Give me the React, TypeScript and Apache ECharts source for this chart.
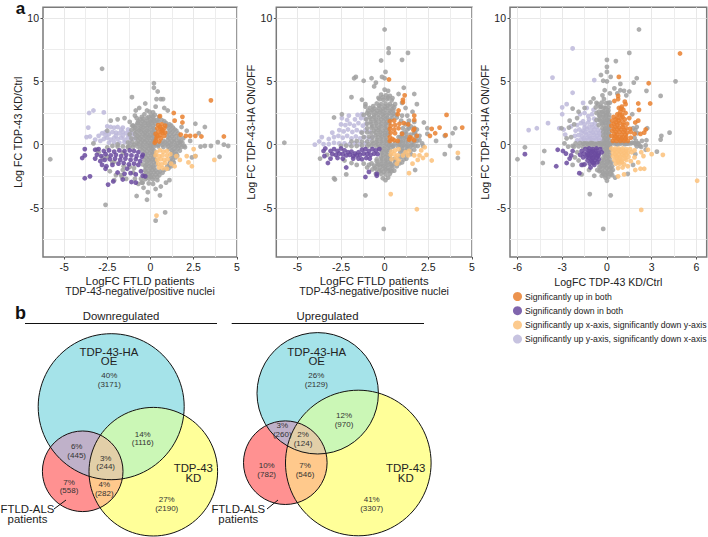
import React, { useEffect, useRef } from "react";
import * as echarts from "echarts";

type P = [number, number];

const seriesNames = [
  "Significantly up in both",
  "Significantly down in both",
  "Significantly up x-axis, significantly down y-axis",
  "Significantly up y-axis, significantly down x-axis",
];
const seriesColors = ["#E9802F", "#6A4A9F", "#FBC17A", "#BDB8DA"];
const notSigColor = "#A0A0A0";

// Panel 1: FTLD vs KD
const p1Gray: P[] = [
  [-2.8,6],[.2,4.85],[.2,4.5],[.42,4.2],[-1.07,3.75],[.35,3.6],[.6,3.6],[.73,3.6],[-.3,3.25],[.8,2.9],[-.65,2.9],[-.85,2.7],[1,2.7],[.3,3],
  [-5.8,-1.15],[-2.6,-4.75],[-.8,-4.05],[-.2,-4.35],[.85,-5.35],[.3,-6],[.55,-4],[-.15,-3.75],[-.4,-3.4],[.3,-3.5],[.6,-3.3],[1.1,-2.8],[.9,-3],[-.7,-3.1],[-.5,-3],
  [2.6,1.65],[3.15,1.4],[2.8,.9],[3.9,.2],[3.5,-.1],[3.15,-.1],[2.9,-.15],[4.25,0],[4.5,-.1],[4,-.95],[2.4,-1],[2.3,.3],[2.1,1.1],[1.8,1.4],[1.7,.2],[2,-.2],[1.9,.5],[2.6,-.9],
  [-1.9,2],[-1.5,2.1],[-1.2,1.8],[-2.3,1.9],[-.9,2.3],[-.8,2.1],[-1,1.5],[-2.5,1.1],
  [-.2,2.7],[-.05,2.6],[.15,2.55],[-.35,2.4],[.05,2.3],[.25,2.35],[.5,2.2],
  [-.6,2],[-.42,2.05],[-.2,2.1],[0,2],[.2,2],[.4,1.95],[.65,1.95],
  [-.75,1.7],[-.55,1.65],[-.33,1.72],[-.12,1.68],[.08,1.7],[.28,1.66],[.9,1.7],[1.1,1.6],
  [-.9,1.35],[-.65,1.3],[-.42,1.36],[-.2,1.33],[0,1.38],[.2,1.3],[1.05,1.3],[1.3,1.35],
  [-.8,1],[-.55,1.03],[-.32,.97],[-.1,1.02],[.12,.98],[1,.95],[1.25,1],[1.5,1.1],
  [-.75,.68],[-.52,.64],[-.3,.7],[-.08,.66],[.15,.68],[1,.62],[1.25,.65],[1.5,.7],
  [-.7,.35],[-.45,.32],[-.22,.36],[0,.3],[.2,.34],[.75,.3],[1,.35],[1.25,.28],[1.5,.34],[1.75,.25],
  [-.95,0],[-.7,.04],[-.45,-.02],[-.22,.03],[0,-.03],[.22,.02],[.45,0],[.7,-.02],[.95,.03],[1.2,0],[1.45,-.03],[1.7,-.05],[1.95,-.1],
  [-.6,-.32],[-.35,-.35],[-.12,-.3],[.1,-.34],[1.1,-.32],[1.35,-.36],[1.6,-.3],
  [-.3,-.7],[-.05,-.66],[.15,-.7],[1.25,-.68],[1.5,-.72],
  [-.25,-1.02],[-.02,-1.05],[.18,-1],[1.2,-1.05],[1.45,-1],
  [-.22,-1.36],[0,-1.33],[.2,-1.38],[1.15,-1.35],[1.35,-1.42],
  [-.3,-1.7],[-.08,-1.68],[.14,-1.72],[.98,-1.7],[1.2,-1.7],
  [-.32,-2.02],[-.1,-2.05],[.1,-2],[.3,-2.04],[.55,-2.1],[.8,-2],
  [-.35,-2.38],[-.12,-2.35],[.08,-2.4],[.3,-2.36],[.52,-2.4],
  [-.55,-2.7],[-.3,-2.72],[-.08,-2.68],[.15,-2.75],[.4,-2.8],
  [-.45,-3],[-.1,-3.05],[.15,-3.1],
  [-3.1,-.4],[-2.5,-.2],[-1.9,-.15],[-1.3,-.2],[-2.2,-1.4],[-1.6,-2],[-1,-2.2],[-2,-2.4],[-2.1,-2.8],[-1.4,-2.7],[-.9,-2.7],[-1.7,-2.4],[-3.3,.1],[-1.2,-.1],
  [-2.75,-1.05],[-2.1,-1.35],[-1.55,-1.7],[-2.35,-2.1],[-1.2,-1.75],[-3,-.6],[-2.5,-.95],[-1.6,-.65],[-.95,-1.85],[-1.65,-2.55],
  [-.5,2.2],[-.1,2.2],[.15,2.2],
  [-.7,1.85],[-.45,1.85],[-.22,1.87],[0,1.83],[.2,1.85],[.45,1.82],[.8,1.85],
  [-1.05,1.5],[-.8,1.52],[-.55,1.48],[-.3,1.5],[-.1,1.53],[.15,1.5],[.95,1.48],[1.2,1.5],
  [-1.1,1.15],[-.9,1.18],[-.65,1.14],[-.42,1.16],[-.2,1.12],[.05,1.17],[.25,1.15],[1.15,1.14],[1.4,1.2],
  [-1.2,.82],[-.9,.85],[-.65,.8],[-.42,.84],[-.2,.82],[.03,.8],[.22,.85],[1.1,.8],[1.35,.84],[1.6,.88],
  [-1.1,.5],[-.85,.52],[-.6,.48],[-.35,.5],[-.12,.53],[.1,.5],[.28,.48],[1.1,.5],[1.35,.47],[1.65,.52],
  [-1.3,.18],[-1.05,.2],[-.8,.15],[-.55,.18],[-.32,.2],[-.1,.15],[.12,.18],[.6,.13],[.85,.18],[1.1,.15],[1.35,.2],[1.6,.12],[1.85,.15],
  [-2.2,-.1],[-1.9,.02],[-1.6,-.13],[-1.3,-.15],[-1,-.17],[-.75,-.14],[-.5,-.15],[-.25,-.18],[0,-.14],[.2,-.16],[.45,-.13],[.75,-.18],[1,-.15],[1.25,-.16],[1.5,-.14],[1.8,-.18],
  [-.45,-.5],[-.2,-.52],[.05,-.47],[.22,-.5],[1.25,-.5],[1.45,-.53],[1.7,-.48],
  [-.4,-.85],[-.15,-.87],[.08,-.83],[.25,-.85],[1.3,-.85],[1.55,-.87],
  [-.35,-1.2],[-.1,-1.22],[.12,-1.17],[.28,-1.2],[1.3,-1.22],
  [-.45,-1.55],[-.2,-1.53],[.05,-1.57],[.3,-1.55],[1.1,-1.53],
  [-.25,-1.85],[0,-1.87],[.22,-1.83],[1.05,-1.87],
  [-.25,-2.2],[0,-2.22],[.2,-2.18],[.42,-2.2],[.7,-2.22],
  [-.25,-2.55],[0,-2.52],[.2,-2.57],[.4,-2.55],
];
const p1Up: P[] = [
  [3.5,3.5],[1.35,2.5],[1.85,2.2],[1.4,1.9],[1.85,1.75],[4.25,.65],[2.95,.65],[2.6,.7],[2.3,.7],[2.05,.7],[1.75,.8],[.55,2.25],
  [.45,1.55],[.65,1.6],[.85,1.5],[.4,1.3],[.6,1.25],[.8,1.3],[.45,1],[.65,1.05],[.85,.95],[.3,.85],[.55,.75],[.8,.7],[.35,.55],[.6,.5],[.3,.3],[.5,.25],[.25,.15],[.7,.95],[.55,1.42],[.7,1.15],[.4,.68],
];
const p1Down: P[] = [
  [-3.8,-.35],[-3.95,-1.05],[-3.8,-.85],[-3.8,-2.65],[-3.5,-2.5],[-2.45,-3.15],[-2.15,-2.9],[-1.6,-2.75],[-1.1,-2.95],[-.85,-3],[-.3,-2.5],
  [-3.2,-.4],[-3,-.35],[-2.7,-.5],[-2.4,-.45],[-2.1,-.55],[-1.8,-.45],[-1.5,-.5],[-1.2,-.45],[-.95,-.5],[-.7,-.6],[-.45,-.8],
  [-3.1,-.8],[-2.85,-.9],[-2.6,-.75],[-2.3,-.85],[-2,-.8],[-1.7,-.9],[-1.4,-.8],[-1.1,-.85],[-.8,-.9],[-.5,-.95],
  [-3.2,-1.1],[-2.9,-1.3],[-2.65,-1.2],[-2.35,-1.15],[-2.05,-1.1],[-1.75,-1.2],[-1.45,-1.1],[-1.15,-1.2],[-.85,-1.15],[-.6,-1.3],
  [-2.8,-1.6],[-2.55,-1.7],[-2.2,-1.6],[-1.85,-1.5],[-1.55,-1.45],[-1.25,-1.55],[-.95,-1.5],[-.7,-1.6],
  [-2.6,-1.9],[-1.9,-2.2],[-1.5,-2.3],[-1.15,-2.25],[-.85,-2.35],[-.55,-2.1],[-.45,-2.45],[-1.35,-1.9],
];
const p1UpX: P[] = [
  [3.7,-1.2],[2.6,-.9],[2.1,-.9],[2.4,-1.7],[2.2,-1.4],[2.5,-.35],[.35,-5.6],[1.7,-1.2],[1.4,-1.7],[1.5,-.9],
  [.35,-.6],[.55,-.45],[.75,-.55],[.95,-.5],[.3,-.85],[.5,-.9],[.7,-.85],[.95,-.85],[1.15,-.75],[.4,-1.2],[.6,-1.15],[.8,-1.2],[1,-1.15],[.45,-1.5],[.65,-1.55],[.85,-1.45],[.5,-1.8],[.72,-1.85],[.95,-1.9],[1.2,-1.5],
];
const p1UpY: P[] = [
  [-3.55,2.5],[-3.3,2.7],[-2.7,2.55],[-3.6,1.35],[-3.7,.6],[-3.5,.65],[-3.2,.4],[-3,.7],[-2.9,.3],
  [-2.5,1.45],[-2.3,1.4],[-2.1,1.35],[-1.9,1.4],[-1.6,1.35],[-1.3,1.2],
  [-2.8,.9],[-2.6,1],[-2.4,.85],[-2.2,1],[-2,.95],[-1.8,.9],[-1.6,1],[-1.4,.9],[-1.2,1],[-1,.85],
  [-2.7,.45],[-2.5,.55],[-2.3,.4],[-2.1,.55],[-1.9,.45],[-1.7,.55],[-1.5,.4],[-1.3,.55],[-1.1,.45],[-.9,.5],
  [-2.4,.15],[-2.1,.2],[-1.8,.15],[-1.5,.2],[-1.2,.15],[-2.6,.75],[-1.7,1.2],[-2,.72],[-1.6,.72],[-1.25,.75],
];

// Panel 2: FTLD vs HA
const p2Gray: P[] = [
  [0,9.1],[.23,7.6],[.23,7.25],[1.34,7.25],[1,6.7],[-.2,6.65],[.05,5.75],[-1.65,5.35],[-1.75,5.25],[-1.2,5.05],[-.75,5.25],[-.15,5.35],[-.5,4.9],[-.6,4.6],[0,5.25],[1.1,4.5],[0,4.35],[.2,4.25],[1.7,4],[.8,4],[-1.9,3.75],[-1.3,3.55],[-1.1,3.2],[1.85,3.2],[-2.9,2.15],[-2.45,2.4],
  [2.25,1.75],[4.05,1.3],[3.9,.9],[2.45,1.3],[2.45,.85],[2.95,.3],[3.45,.7],[3.75,-.1],[3.45,-.75],[4.2,-1.05],[-5.75,.15],[-2.85,-2.75],[-2.9,-2.65],[-3.7,-1.1],[-3.3,-.8],[-1.1,-4],[-.05,-6.65],[-2.2,-2.35],[1.75,-2],[1.2,2.9],[1.6,2.6],[.6,3.2],[1,3.3],
  [-.2,3.95],[.08,3.9],[.3,3.85],[-.3,3.6],[-.08,3.55],[.15,3.6],[.4,3.5],[-1.1,3],[-.45,3.25],[-.2,3.2],[.05,3.25],[.3,3.2],[.55,2.95],
  [-.85,2.9],[-.6,2.85],[-.35,2.9],[-.1,2.85],[.15,2.9],[.4,2.8],
  [-1,2.5],[-.75,2.55],[-.5,2.5],[-.25,2.55],[0,2.5],[.25,2.5],[.5,2.45],[1,2.3],[1.3,2.3],
  [-.85,2.15],[-.6,2.2],[-.35,2.15],[-.1,2.2],[.15,2.15],[.45,2.1],[.7,2.15],[.95,1.9],[1.4,1.9],[1.7,1.8],
  [-.8,1.8],[-.55,1.85],[-.3,1.8],[-.05,1.85],[.15,1.8],[1.2,1.6],[1.5,1.45],[1.85,1.2],
  [-.7,1.45],[-.45,1.5],[-.2,1.45],[.05,1.5],[1.05,1.3],[1.3,1.2],[1.7,.9],[2,.7],
  [-.6,1.1],[-.35,1.15],[-.1,1.1],[.1,1.15],[1,.9],[1.25,.85],[1.5,.8],[2,.35],
  [-.5,.75],[-.25,.8],[0,.75],[.2,.8],[.9,.6],[1.15,.55],[1.4,.45],[1.85,.3],
  [-.45,.4],[-.2,.45],[.05,.4],[.95,.25],[1.2,.2],[1.55,.15],[2.15,.1],
  [-.9,.05],[-.65,.1],[-.4,.05],[-.15,.1],[.1,.05],[.35,.02],[.6,.1],[.85,0],[1.1,-.05],[1.35,-.1],[1.6,-.05],[1.9,-.1],[2.2,-.1],
  [-.3,-.25],[-.05,-.3],[.2,-.25],[.45,-.15],[1,-.3],[1.3,-.35],[1.7,-.4],
  [-.15,-.65],[.1,-.6],[.9,-.6],[1.5,-.75],[-.2,-1],[.05,-.95],[.3,-1],[.9,-1],[1.25,-1.1],
  [-.45,-1.3],[-.2,-1.3],[.05,-1.3],[.3,-1.35],[.6,-1.3],[1,-1.4],
  [-.9,-1.6],[-.6,-1.65],[-.35,-1.6],[-.1,-1.65],[.15,-1.6],[.4,-1.65],[.7,-1.7],
  [-.7,-1.95],[-.45,-1.95],[-.2,-2],[.05,-1.95],[.3,-2],[.55,-2.05],
  [-.5,-2.3],[-.2,-2.3],[.05,-2.35],[.3,-2.3],[-.1,-2.65],[.05,-2.8],[.2,-2.6],
  [-1.6,-1.6],[-1.9,-1.45],[-2.3,-1.25],
  [-.35,3.7],[-.1,3.75],[.2,3.72],[.45,3.68],
  [-.65,3.05],[-.3,3.07],[0,3.03],[.2,3.06],[.45,3.05],
  [-.95,2.7],[-.7,2.72],[-.45,2.68],[-.2,2.7],[.05,2.73],[.3,2.68],[.5,2.7],
  [-1.2,2.35],[-.9,2.37],[-.6,2.33],[-.35,2.35],[-.1,2.38],[.15,2.33],[.4,2.35],[.65,2.37],
  [-1.05,2],[-.75,2.03],[-.5,1.98],[-.2,2],[.05,2.03],[.3,1.98],
  [-1,1.65],[-.75,1.62],[-.5,1.67],[-.2,1.63],[.05,1.65],[.25,1.67],[1.35,1.63],
  [-1,1.3],[-.75,1.33],[-.5,1.28],[-.3,1.3],[0,1.33],[.2,1.28],[1.4,1.3],[1.7,1.33],
  [-1.3,.95],[-1,.98],[-.75,.93],[-.5,.95],[-.25,.97],[0,.93],[.2,.95],[1.15,.97],[1.75,.93],
  [-1.2,.6],[-.9,.63],[-.7,.58],[-.4,.6],[-.15,.62],[.1,.58],[.8,.6],[1,.63],[1.25,.58],[1.8,.6],
  [-1.9,.25],[-1.6,.28],[-1.3,.23],[-1,.25],[-.7,.27],[-.45,.23],[-.2,.25],[.05,.27],[.25,.23],[.85,.25],[1.05,.28],[1.35,.23],[1.7,.25],
  [-2.5,-.1],[-2.2,-.07],[-1.9,-.12],[-1.6,-.1],[-1.3,-.08],[-1,-.12],[-.75,-.1],[-.5,-.08],[-.25,-.12],[0,-.1],[.25,-.08],[.5,-.12],[.75,-.1],[1,-.08],[1.25,-.12],[1.5,-.1],[1.75,-.08],
  [-.15,-.45],[.1,-.47],[.3,-.43],[.95,-.45],[1.15,-.47],[1.5,-.43],
  [-.1,-.8],[.15,-.82],[.3,-.78],[1.05,-.8],[1.25,-.78],
  [-.45,-1.15],[-.15,-1.13],[.1,-1.17],[.3,-1.15],[.55,-1.13],[1.1,-1.17],
  [-1.2,-1.5],[-.75,-1.48],[-.4,-1.52],[-.15,-1.5],[.1,-1.48],[.35,-1.52],[.6,-1.5],[.85,-1.48],
  [-1,-1.8],[-.55,-1.82],[-.25,-1.78],[0,-1.8],[.2,-1.83],[.45,-1.78],
  [-.3,-2.1],[-.05,-2.13],[.2,-2.08],[.4,-2.1],
];
const p2Up: P[] = [
  [.25,5.15],[1.05,3.55],[1.05,3.35],[1.15,3.9],[.8,2.7],[1.7,2.3],[3.55,2.35],[4.45,1.35],[3.15,1.35],[2.7,1.25],[2.9,.9],[2.6,.7],[3.5,.75],[.75,2.4],[1.7,1.95],
  [.3,1.85],[.55,1.9],[.35,1.5],[.6,1.55],[.85,1.65],[1.1,1.7],[1.35,1.6],[.3,1.25],[.55,1.2],[.8,1.3],[1.7,1.25],[1.65,1.15],[.35,.95],[.6,.9],[.3,.6],[.45,.45],[.3,.3],[.55,.35],[.75,.3],[1,.85],[1.45,.6],[1.55,.5],[1.85,.7],[1.4,.4],[1.7,.35],
];
const p2Down: P[] = [
  [-3.5,-.5],[-3.25,-1.45],[-2.2,-1.8],[-1.1,-2.55],[-.45,-2.3],[-.9,-2.15],[-.45,-2.45],[-3.45,-.9],[-3.4,-.3],
  [-3.1,-.5],[-2.9,-.35],[-2.7,-.5],[-2.5,-.3],[-2.3,-.45],[-2.1,-.6],[-1.9,-.55],[-1.7,-.7],[-1.5,-.6],[-1.3,-.4],[-1.1,-.35],[-.9,-.5],[-.7,-.35],[-.5,-.45],[-.3,-.35],
  [-3,-.75],[-2.8,-.8],[-2.6,-.7],[-2.4,-.75],[-2.2,-.85],[-2,-.8],[-1.8,-.9],[-1.6,-.85],[-1.4,-.8],[-1.2,-.7],[-1,-.75],[-.8,-.8],[-.6,-.7],[-.4,-.75],
  [-3.1,-1.1],[-2.7,-1.05],[-2.4,-1.1],[-1.8,-1.1],[-1.5,-1.1],[-1.3,-1.15],[-1.05,-1.05],[-.85,-1.1],
];
const p2UpX: P[] = [
  [.35,-3.9],[1.85,-5.1],[4.2,-.65],[2.7,-1.25],[1.4,-2.25],[1.6,-1.5],[2.4,-.8],[2,-.85],[2.3,-.2],[2.1,-.45],[2.2,-1.05],
  [.4,-.55],[.6,-.45],[.8,-.35],[.35,-.8],[.55,-.75],[.75,-.85],[1.2,-.6],[1.4,-.5],[.4,-1.15],[.65,-1.05],[.8,-1.25],[1.05,-.85],[1.35,-.85],[1.7,-.85],[1.9,-1.2],[.7,-1.5],
];
const p2UpY: P[] = [
  [-4,0],[-3.6,.6],[-3.2,.45],[-3.75,.25],[-3.5,.05],[-3.2,.05],[-2.9,.15],[-2.6,.1],[-2.3,.1],[-2,.05],[-1.7,.1],[-1.4,.05],[-1.1,.1],
  [-2.9,.6],[-2.65,.7],[-2.4,.55],[-2.15,.7],[-1.9,.5],[-1.65,.65],[-1.4,.5],[-1.15,.6],[-.9,.45],[-.7,.6],
  [-2.6,1.15],[-2.35,1.05],[-2.1,1.2],[-1.85,1],[-1.6,1.15],[-1.35,1],[-1.1,1.15],[-.85,1],
  [-2.5,1.6],[-2.25,1.55],[-2,1.65],[-1.75,1.5],[-1.5,1.7],[-1.25,1.5],[-1.05,1.65],
  [-2.45,2.1],[-2.15,1.95],[-1.7,2],[-1.35,2.1],[-1.1,2.05],[-1.3,2.4],[-2.05,2.3],[-1.55,2.35],[-3,.95],
];

// Panel 3: KD vs HA
const p3Gray: P[] = [
  [2.15,9.1],[1.5,7.25],[0,6.7],[.6,6.6],[0,6.15],[0,5.75],[-.4,5.5],[4.6,5],[2,5.25],[1.8,4.9],[.25,5.35],[-.25,5.05],[0,5],[.9,4.8],[2.65,4.25],[3.6,3.85],[4.2,.95],[3.65,.7],[3.6,.4],[3.35,-.55],[-4.2,-.5],[-4.3,-1.45],[-5.5,-.2],[-6,-1.15],[-1.15,-3.9],[.25,-4],[-.25,-6.65],[0,-2.85],[-.1,-2.6],[-.35,-2.45],[-.85,-2.45],[-1.7,-2.35],[.55,-2.6],[.35,-2.4],[1.4,-2.3],
  [-1.6,-1.6],[-1.2,-2],[-.5,-2.1],[-2.3,-.1],[-2.6,-.15],[-2.85,.1],[-2.4,.6],[-3.05,1.3],[-2.5,1.9],[-2.3,2.85],[-2,2.1],[-1.1,3.35],[-.6,3.2],[-.2,3.6],[.1,3.3],[-.9,3.65],
  [2.65,.35],[2.7,1.3],[2.6,-.05],[2.6,-.4],[2.1,.1],[1.9,1.15],[1.7,2.4],[1.5,4.2],[1.15,4.25],[1.3,3.9],[.5,4.45],[-.15,4.3],[.2,4.05],[-.3,3.9],[.9,4.3],[-.4,3],
  [-.1,2.9],[-.35,2.6],[-.1,2.55],[.1,2.7],[-.7,2.5],[-.5,2.25],[-.25,2.2],[-.05,2.3],[.15,2.15],
  [-.7,1.95],[-.45,1.9],[-.2,1.85],[0,1.95],[.15,1.8],[-.55,1.55],[-.3,1.6],[-.05,1.55],[.15,1.45],[-.15,1.25],[.05,1.2],[-.1,.9],[.1,.85],[-.15,.55],[.05,.5],[-.1,.2],[.1,.15],
  [-1.5,.1],[-1.25,.05],[-1,.12],[-.75,.05],[-.5,.1],[-.3,.02],[-.05,-.02],[.2,.05],[.45,.1],[.7,.02],[.95,.1],[1.2,.05],[1.45,.1],[1.7,.15],[1.95,.05],[2.2,-.1],
  [-.1,-.3],[.1,-.25],[-.05,-.6],[.15,-.55],[-.1,-.9],[.1,-.95],[-.2,-1.2],[.05,-1.25],[-.35,-1.45],[-.05,-1.55],[.2,-1.45],[-.5,-1.75],[-.25,-1.8],[0,-1.85],[.25,-1.8],[-.65,-2],[-.3,-2.15],[0,-2.2],[.3,-2.1],[-.1,-2.4],[.1,-2.55],
  [-.7,3.3],[-.35,3.32],[-.05,3.28],[.2,3.32],
  [-.75,2.95],[-.45,2.97],[-.2,2.93],[.1,2.96],
  [-.55,2.6],[-.25,2.62],[.05,2.58],
  [-.5,2.35],[-.25,2.37],[0,2.33],[.15,2.37],
  [-.5,2],[-.2,2.03],[.05,1.98],
  [-.3,1.7],[-.1,1.72],[.1,1.68],
  [-.3,1.3],[-.1,1.33],[.12,1.28],
  [-.25,1],[-.05,1.03],[.15,.98],
  [-.25,.7],[-.05,.72],[.15,.68],
  [-.2,.35],[0,.37],[.18,.33],
  [-2.1,.1],[-1.8,.12],[-1.6,.08],[-1.35,.1],[-1.1,.12],[-.85,.08],[-.6,.1],[-.4,.12],[-.2,.08],[0,.1],[.3,.12],[.6,.08],[.85,.1],[1.1,.12],[1.35,.08],[1.6,.1],[1.85,.12],[2.1,.08],
  [-2.2,-.15],[-1.9,-.13],[-1.6,-.17],[-1.3,-.15],[-1,-.13],[-.7,-.17],[-.4,-.15],[-.2,-.13],[0,-.17],[.2,-.15],[2,-.13],[2.3,-.17],
  [-.2,-.45],[0,-.47],[.2,-.43],
  [-.2,-.8],[0,-.78],[.2,-.82],
  [-.3,-1.1],[-.05,-1.08],[.18,-1.12],
  [-.5,-1.4],[-.2,-1.42],[.05,-1.38],[.3,-1.4],
  [-.4,-1.7],[-.15,-1.68],[.1,-1.72],[.35,-1.7],
  [-.45,-2],[-.15,-2.02],[.15,-1.98],[.4,-2],
  [-.25,-2.3],[.05,-2.28],[.25,-2.32],
  [1.85,.55],[2.05,.9],[2,1.4],[1.75,1.3],[1.95,.3],[2.35,.3],[-2,-.6],[-2.15,-1],[-1.9,-1.25],[-2.3,-1.6],[1.75,-1.6],[1.9,-.75],[-2.7,.5],[-2.55,1.35],[-2.2,1.6],[-1.9,2.6],[-1.5,2.9],[.7,4.05],
];
const p3Up: P[] = [
  [4.9,7.2],[.8,5.35],[2.8,4.85],[2.9,3.25],[2.1,3.25],[2.15,2.75],[.75,3.85],[.75,3.6],[1.2,3.4],[1.25,3.2],[.5,3.45],[2.1,1.9],[1.9,1.75],[2.6,1.2],[2.5,.95],[2.25,.85],
  [1,3],[.8,2.9],[1.1,2.75],[.9,2.6],[.7,2.4],[1,2.35],[1.25,2.5],[.45,2.2],[.7,2.1],[.95,2.05],[1.2,2],[1.5,2.1],[.35,1.9],[.6,1.75],[.85,1.7],[1.1,1.75],[1.35,1.65],[.3,1.5],[.55,1.4],[.8,1.35],[1.05,1.4],[1.3,1.3],[1.55,1.25],[.35,1.1],[.6,1],[.85,1],[1.1,1],[1.35,.95],[1.6,1],[1.85,.85],[.3,.7],[.55,.65],[.8,.6],[1.05,.6],[1.3,.6],[1.6,.55],[.4,.3],[.65,.3],[.9,.3],[1.15,.3],[1.4,.3],
  [.95,2.85],[.85,2.35],[1.05,2.2],[.6,2],[.8,1.9],[1.1,1.55],[.7,1.55],[.45,1.65],[.95,1.2],[.7,1.2],[.45,1.25],[1.2,1.15],[.5,.85],[.7,.8],[1,.8],[1.25,.8],[.5,.5],[.75,.45],[1,.45],[1.25,.45],
];
const p3Down: P[] = [
  [-5.5,-.75],[-3.4,-1.7],[-3.3,-.4],[-2.7,-1.45],[-2.95,-.5],[-1.85,-2.25],[-2.4,-.85],[-2.3,-.5],[-2.5,-1.1],[-2.75,-.7],[-1.7,-1.6],[-1.5,-1.55],[-1.1,-1.8],[-.85,-1.6],
  [-1.7,-.5],[-1.45,-.35],[-1.2,-.3],[-.95,-.35],[-.7,-.3],[-.45,-.35],[-1.8,-.8],[-1.55,-.7],[-1.3,-.65],[-1.05,-.6],[-.8,-.65],[-.55,-.65],[-.35,-.6],
  [-1.6,-1],[-1.35,-.95],[-1.1,-.9],[-.85,-.95],[-.6,-.9],[-1.3,-1.25],[-1.05,-1.2],[-.8,-1.25],[-.55,-1.15],[-1.15,-1.5],[-.9,-1.45],[-.65,-1.4],
  [-1.2,-.5],[-.95,-.5],[-.7,-.5],[-1.3,-.8],[-1.05,-.78],[-.8,-.8],[-.55,-.8],[-1.2,-1.05],[-.95,-1.08],[-.7,-1.05],[-1,-1.33],
];
const p3UpX: P[] = [
  [6.05,-2.85],[2.3,-5.15],[3.75,-.8],[3,-.75],[2.5,-1.9],[2.75,-.4],[2.3,-.6],[2.45,-.9],[2.25,-1.9],[1.9,-2],[1.15,-2.35],[.75,-2.5],[2.1,-1.4],[1.85,-1],
  [.3,-.3],[.55,-.3],[.8,-.3],[1.05,-.3],[1.3,-.35],[1.55,-.35],[1.85,-.45],[.4,-.6],[.65,-.6],[.9,-.6],[1.15,-.65],[1.4,-.65],[1.65,-.6],[.4,-.9],[.65,-.9],[.9,-.95],[1.15,-.9],[1.45,-.95],[.5,-1.2],[.75,-1.25],[1,-1.25],[1.3,-1.2],[1.6,-1.3],[.6,-1.5],[.85,-1.5],[1.15,-1.55],[.75,-1.85],[1.05,-1.8],[1.4,-1.7],
  [.5,-.45],[.8,-.45],[1.05,-.47],[1.3,-.5],[.55,-.75],[.8,-.77],[1.05,-.78],[1.3,-.8],[.65,-1.05],[.9,-1.1],[1.2,-1.07],[.75,-1.38],[1,-1.38],
];
const p3UpY: P[] = [
  [-2.3,7.6],[-3.65,5.3],[-5.25,1.15],[-4.7,1.3],[-3.95,1.7],[-3,2.95],[-2.7,3.2],[-2.3,4.1],[-.85,5.1],[-3,2.4],[-3.2,1.3],[-2.9,1.2],[-2.8,.8],[-2.4,1.45],[-1.6,3.3],
  [-2,1.55],[-1.75,1.7],[-1.5,1.6],[-1.25,1.75],[-1,1.6],[-.8,1.7],[-1.8,2.4],[-1.5,2.5],[-1.25,2.25],[-1,2.4],[-.9,2.75],[-1.35,2.9],
  [-2.1,1.1],[-1.85,1.2],[-1.6,1.1],[-1.35,1.25],[-1.1,1.1],[-.85,1.2],[-.6,1.15],[-.4,1.1],[-2.15,.7],[-1.9,.75],[-1.65,.65],[-1.4,.8],[-1.15,.65],[-.9,.8],[-.65,.7],[-.4,.75],
  [-2,.35],[-1.75,.4],[-1.5,.35],[-1.25,.4],[-1,.35],[-.75,.4],[-.5,.35],[-.3,.4],
  [-1.7,.95],[-1.45,.97],[-1.2,.9],[-.95,.95],[-.7,.93],[-.5,.9],[-1.55,.5],[-1.3,.55],[-1.05,.52],[-.8,.55],[-.55,.53],[-1.5,1.35],[-1.2,1.4],[-.95,1.38],[-.7,1.42],[-1.6,1.85],[-1.2,2],[-.85,2.05],
];

const notSignificant = [p1Gray, p2Gray, p3Gray];
const upBoth = [p1Up, p2Up, p3Up];
const downBoth = [p1Down, p2Down, p3Down];
const upX = [p1UpX, p2UpX, p3UpX];
const upY = [p1UpY, p2UpY, p3UpY];

const xMajor = [[-5, -2.5, 0, 2.5, 5], [-5, -2.5, 0, 2.5, 5], [-6, -3, 0, 3, 6]];
const xMinor = [[-3.75, -1.25, 1.25, 3.75], [-3.75, -1.25, 1.25, 3.75], [-4.5, -1.5, 1.5, 4.5]];
const yMajor = [-5, 0, 5, 10];
const yMinor = [-7.5, -2.5, 2.5, 7.5];
const xTitles = [
  "{a|LogFC FTLD patients}\n{b|TDP-43-negative/positive nuclei}",
  "{a|LogFC FTLD patients}\n{b|TDP-43-negative/positive nuclei}",
  "LogFC TDP-43 KD/Ctrl",
];
const yTitles = ["Log FC TDP-43 KD/Ctrl", "Log FC TDP-43-HA ON/OFF", "Log FC TDP-43-HA ON/OFF"];

const downLabels = ["40%\n(3171)", "14%\n(1116)", "6%\n(445)", "3%\n(244)", "7%\n(558)", "4%\n(282)", "27%\n(2190)"];
const upLabels = ["26%\n(2129)", "12%\n(970)", "3%\n(260)", "2%\n(124)", "10%\n(782)", "7%\n(546)", "41%\n(3307)"];

const FONT = "'Liberation Sans', Arial, sans-serif";
const GRID_LEFT = [43, 276.3, 510];
const GRID_W = [194, 195.7, 196.7];
const X_RANGE = [[-6.22, 5.01], [-6.21, 5.01], [-6.5, 6.69]];
const Y_RANGE = [-8.87, 10.85];

type C = { x: number; y: number; r: number };
const downCircles = {
  ha: { x: 111.2, y: 406.7, r: 73 },
  kd: { x: 153.3, y: 471.7, r: 64.3 },
  ft: { x: 82.7, y: 471.3, r: 40.3 },
};
const upCircles = {
  ha: { x: 317.7, y: 393.3, r: 60.7 },
  kd: { x: 358.3, y: 463, r: 72.8 },
  ft: { x: 285.3, y: 462.7, r: 41.8 },
};
const downPos = [[109.3, 380], [142.7, 438.5], [76.7, 451], [105.7, 462.5], [69, 486.3], [104.3, 489], [166.7, 504]];
const upPos = [[316.3, 380], [344, 420], [282.3, 430], [303, 439], [266.7, 470], [305, 470], [371.7, 504]];

const VENN = { ha: "#A5E3E9", kd: "#FFFF99", ft: "#FF9191", haKd: "#CBF7B6", haFt: "#BFB1C9", kdFt: "#FFC98C", all: "#E2CFA8" };

function circlePts(c: C): number[][] {
  const pts: number[][] = [];
  for (let i = 0; i < 180; i++) {
    const a = (i / 180) * Math.PI * 2;
    pts.push([c.x + c.r * Math.cos(a), c.y + c.r * Math.sin(a)]);
  }
  return pts;
}
// Intersect a polygon with a circle, treated as a fine convex polygon.
function clip(poly: number[][], c: C): number[][] {
  const clipper = circlePts(c);
  let out = poly;
  for (let i = 0; i < clipper.length; i++) {
    const [ax, ay] = clipper[i];
    const [bx, by] = clipper[(i + 1) % clipper.length];
    const side = (p: number[]) => (bx - ax) * (p[1] - ay) - (by - ay) * (p[0] - ax);
    const next: number[][] = [];
    for (let j = 0; j < out.length; j++) {
      const p = out[j];
      const q = out[(j + 1) % out.length];
      const sp = side(p);
      const sq = side(q);
      if (sp >= 0) next.push(p);
      if (sp >= 0 !== sq >= 0) {
        const t = sp / (sp - sq);
        next.push([p[0] + (q[0] - p[0]) * t, p[1] + (q[1] - p[1]) * t]);
      }
    }
    out = next;
    if (!out.length) break;
  }
  return out;
}

function venn(cs: { ha: C; kd: C; ft: C }): any[] {
  const fill = (p: number[][], color: string) => ({
    type: "polygon", silent: true, shape: { points: p }, style: { fill: color, stroke: "none" },
  });
  const disc = (c: C, color: string) => ({
    type: "circle", silent: true, shape: { cx: c.x, cy: c.y, r: c.r }, style: { fill: color, stroke: "none" },
  });
  const ring = (c: C) => ({
    type: "circle", silent: true, shape: { cx: c.x, cy: c.y, r: c.r }, style: { fill: "none", stroke: "#111", lineWidth: 1 },
  });
  const haPts = circlePts(cs.ha);
  const kdPts = circlePts(cs.kd);
  const haKd = clip(haPts, cs.kd);
  return [
    disc(cs.ha, VENN.ha), disc(cs.kd, VENN.kd), disc(cs.ft, VENN.ft),
    fill(haKd, VENN.haKd), fill(clip(haPts, cs.ft), VENN.haFt), fill(clip(kdPts, cs.ft), VENN.kdFt),
    fill(clip(haKd, cs.ft), VENN.all),
    ring(cs.ha), ring(cs.kd), ring(cs.ft),
  ];
}

const txt = (text: string, x: number, y: number, fontSize: number, extra: any = {}) => ({
  type: "text", silent: true, x, y,
  style: { text, fontSize, fontFamily: FONT, fill: "#222", align: "center", verticalAlign: "middle", lineHeight: fontSize + 0.3, ...extra },
});
const seg = (x1: number, y1: number, x2: number, y2: number, lineWidth = 1) => ({
  type: "line", silent: true, shape: { x1, y1, x2, y2 }, style: { stroke: "#111", lineWidth },
});

export default function App() {
  const ref = useRef<HTMLDivElement>(null);
  useEffect(() => {
    const chart = echarts.init(ref.current!, undefined, { renderer: "svg" });
    const grid: any[] = [];
    const xAxis: any[] = [];
    const yAxis: any[] = [];
    const series: any[] = [];
    const labelStyle = { color: "#222", fontSize: 10.5, fontFamily: FONT };
    const nameStyle = { color: "#222", fontSize: 10.6, fontFamily: FONT };
    const richName = {
      a: { fontSize: 11.4, fontFamily: FONT, color: "#222", lineHeight: 9.8 },
      b: { fontSize: 10.6, fontFamily: FONT, color: "#222", lineHeight: 9.8 },
    };
    for (let i = 0; i < 3; i++) {
      grid.push({
        left: GRID_LEFT[i], top: 7.3, width: GRID_W[i], height: 249.7, show: true,
        borderColor: "#7A7A7A", borderWidth: 1.5, backgroundColor: "#fff",
      });
      const xBase = { type: "value", gridIndex: i, min: X_RANGE[i][0], max: X_RANGE[i][1], position: "bottom" };
      const yBase = { type: "value", gridIndex: i, min: Y_RANGE[0], max: Y_RANGE[1], position: "left" };
      xAxis.push({
        ...xBase,
        name: xTitles[i], nameLocation: "middle", nameGap: i === 2 ? 19 : 19.5,
        nameTextStyle: i === 2 ? nameStyle : { ...nameStyle, rich: richName },
        axisLine: { show: false, onZero: false },
        axisTick: { show: true, length: 2.5, customValues: xMajor[i], lineStyle: { color: "#555" } },
        axisLabel: { customValues: xMajor[i], margin: 4.5, showMinLabel: true, showMaxLabel: true, ...labelStyle, formatter: (v: number) => String(v) },
        splitLine: { show: true, lineStyle: { color: "#E8E8E8", width: 1 } },
      });
      xAxis.push({
        ...xBase,
        axisLine: { show: false, onZero: false }, axisLabel: { show: false },
        axisTick: { show: false, customValues: xMinor[i] },
        splitLine: { show: true, lineStyle: { color: "#EDEDED", width: 1 } },
      });
      yAxis.push({
        ...yBase,
        name: yTitles[i], nameLocation: "middle", nameGap: i === 0 ? 18 : 17, nameRotate: 90, nameTextStyle: nameStyle,
        axisLine: { show: false, onZero: false },
        axisTick: { show: true, length: 2.5, customValues: yMajor, lineStyle: { color: "#555" } },
        axisLabel: { customValues: yMajor, margin: 4, ...labelStyle, formatter: (v: number) => String(v) },
        splitLine: { show: true, lineStyle: { color: "#E8E8E8", width: 1 } },
      });
      yAxis.push({
        ...yBase,
        axisLine: { show: false, onZero: false }, axisLabel: { show: false },
        axisTick: { show: false, customValues: yMinor },
        splitLine: { show: true, lineStyle: { color: "#EDEDED", width: 1 } },
      });
      const add = (name: string, data: P[], color: string, z: number, opacity = 0.85) =>
        series.push({
          type: "scatter", name, data, xAxisIndex: 2 * i, yAxisIndex: 2 * i, symbolSize: 4.8, z,
          itemStyle: { color, opacity }, silent: true,
        });
      add(seriesNames[3], upY[i], seriesColors[3], 2);
      add("Not significant", notSignificant[i], notSigColor, 3);
      add(seriesNames[2], upX[i], seriesColors[2], 4);
      add(seriesNames[1], downBoth[i], seriesColors[1], 4);
      add(seriesNames[0], upBoth[i], seriesColors[0], 4);
    }

    const graphic: any[] = [
      txt("a", 20.5, 8, 17, { fontWeight: "bold", fill: "#111" }),
      txt("b", 20.5, 313, 18, { fontWeight: "bold", fill: "#111" }),
      txt("Downregulated", 121, 315.5, 11.4),
      txt("Upregulated", 327.5, 315.5, 11.4),
      seg(25, 323.5, 217, 323.5),
      seg(231.7, 323.5, 424, 323.5),
      ...venn(downCircles),
      ...venn(upCircles),
      txt("TDP-43-HA\nOE", 109, 356.5, 11.4, { lineHeight: 9.5 }),
      txt("TDP-43\nKD", 193.3, 472.5, 11.4, { lineHeight: 10 }),
      txt("FTLD-ALS\npatients", 27.5, 514, 11.4, { lineHeight: 10 }),
      txt("TDP-43-HA\nOE", 316.7, 356.5, 11.4, { lineHeight: 9.5 }),
      txt("TDP-43\nKD", 405.7, 472.5, 11.4, { lineHeight: 10 }),
      txt("FTLD-ALS\npatients", 238.3, 514, 11.4, { lineHeight: 10 }),
      seg(54, 509, 66, 500),
      seg(267, 509, 278, 500),
      ...downLabels.map((t, i) => txt(t, downPos[i][0], downPos[i][1], 8, { lineHeight: 8.3, fill: "#333" })),
      ...upLabels.map((t, i) => txt(t, upPos[i][0], upPos[i][1], 8, { lineHeight: 8.3, fill: "#333" })),
    ];

    chart.setOption({
      animation: false,
      backgroundColor: "#fff",
      grid, xAxis, yAxis, series, graphic,
      legend: {
        data: seriesNames, orient: "vertical", left: 513, top: 292, itemGap: 5.2, itemWidth: 9, itemHeight: 9, icon: "circle",
        padding: 0, selectedMode: false,
        textStyle: { fontSize: 8.7, fontFamily: FONT, color: "#222", padding: [0, 0, 0, -2] },
      },
    });
    return () => chart.dispose();
  }, []);
  return <div ref={ref} style={{ position: "absolute", left: 0, top: 0, width: 708, height: 537 }} />;
}
